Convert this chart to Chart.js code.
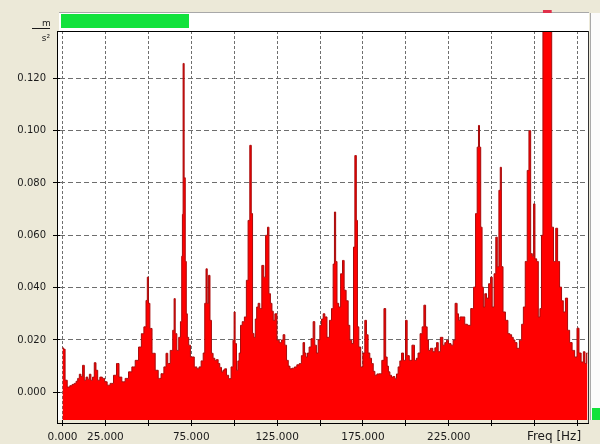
<!DOCTYPE html>
<html>
<head>
<meta charset="utf-8">
<script src="https://cdn.jsdelivr.net/npm/chart.js@4/dist/chart.umd.min.js"></script>
<style>
  html, body { margin: 0; padding: 0; background: #ECE9D8; }
  #wrap { width: 600px; height: 444px; }
</style>
</head>
<body>
<div id="wrap"><canvas id="spectrum" width="600" height="444"></canvas></div>
<script>
// spectrum, in four pieces (Hz / m/s2)
const freqA = [
    0, 1.0, 2.0, 3.5, 5.0, 6.2, 7.4, 8.4, 9.3, 10.3,
    11.2, 12.2, 13.2, 14.2, 15.2, 16.1, 17.0, 18.0, 19.0, 20.0,
    21.0, 22.5, 23.9, 25.2, 26.8, 28.7, 30.7, 32.2, 33.6, 35.5,
    37.5, 39.4, 41.4, 43.3, 45.3, 46.6, 48.2, 49.1, 49.7, 50.5,
    51.3, 53.0, 55.0, 56.5, 58.3, 59.8, 60.8, 61.8, 63.7, 64.7,
    65.3, 66.0, 67.2, 68.2, 69.2, 69.7, 70.0, 70.5, 71.2, 71.8,
    72.4, 73.0, 74.0, 75.0, 76.0
];
const accelA = [
    .0170, .0165, .0046, .0020, .0025, .0030, .0034, .0042, .0053, .0069,
    .0060, .0103, .0046, .0058, .0050, .0069, .0046, .0058, .0113, .0084,
    .0046, .0058, .0053, .0040, .0027, .0034, .0065, .0110, .0058, .0040,
    .0053, .0078, .0097, .0122, .0173, .0224, .0250, .0351, .0440, .0340,
    .0244, .0149, .0084, .0053, .0071, .0097, .0149, .0110, .0160, .0237,
    .0358, .0224, .0160, .0210, .0270, .0520, .0680, .1257, .0820, .0500,
    .0300, .0210, .0180, .0135, .0135
];
const freqB = [
    77.5, 79.0, 80.0, 81.5, 82.4, 83.3, 83.9, 84.7, 85.5, 86.3,
    87.2, 88.2, 89.2, 90.2, 91.1, 92.1, 93.1, 94.0, 95.0, 96.0,
    97.5, 98.9, 99.7, 100.2, 100.9, 101.8, 102.5, 103.3, 104.1, 105.3,
    106.6, 107.6, 108.6, 109.6, 110.3, 111.1, 111.9, 112.7, 113.5, 114.4,
    115.4, 116.8, 117.7, 118.9, 119.9, 120.6, 121.6, 122.4, 123.1, 124.3,
    125.5, 127.0, 128.0, 129.0, 130.0, 131.0, 132.0, 133.0, 134.5, 135.8,
    137.2, 138.7, 139.6, 140.6, 141.4, 142.2, 143.2, 144.1, 145.5, 146.5,
    147.4, 148.4, 149.4, 150.4, 151.4, 152.3, 153.3
];
const accelB = [
    .0097, .0090, .0097, .0120, .0150, .0340, .0472, .0340, .0447, .0275,
    .0149, .0130, .0122, .0125, .0110, .0095, .0078, .0085, .0090, .0065,
    .0052, .0097, .0199, .0307, .0186, .0084, .0120, .0150, .0256, .0270,
    .0288, .0428, .0657, .0944, .0683, .0225, .0210, .0280, .0326, .0340,
    .0320, .0485, .0440, .0600, .0631, .0377, .0340, .0310, .0275, .0300,
    .0199, .0190, .0200, .0220, .0180, .0122, .0100, .0090, .0092, .0097,
    .0105, .0110, .0140, .0190, .0150, .0135, .0150, .0173, .0205, .0270,
    .0180, .0150, .0200, .0256, .0280, .0300, .0288
];
const freqC = [
    154.8, 156.2, 157.2, 158.1, 158.7, 159.5, 160.3, 161.4, 162.6, 163.6,
    164.5, 165.9, 166.9, 167.8, 169.2, 169.8, 170.8, 171.5, 172.1, 173.1,
    174.3, 175.6, 176.6, 177.5, 178.5, 179.5, 180.5, 181.5, 182.4, 183.9,
    185.3, 186.7, 187.8, 188.7, 189.5, 190.2, 191.2, 192.1, 193.1, 194.1,
    195.0, 196.0, 197.0, 198.0, 199.3, 200.3, 201.2, 202.8, 204.3, 205.7,
    206.6, 207.6, 209.0, 210.0, 211.0, 212.0, 212.8, 213.5, 215.0, 216.4,
    217.4, 218.4, 219.3, 220.9, 222.2, 223.2, 224.2, 225.5, 227.1, 228.0,
    229.4, 230.3, 231.0
];
const accelC = [
    .0210, .0275, .0320, .0490, .0689, .0500, .0340, .0326, .0453, .0504,
    .0390, .0350, .0256, .0199, .0186, .0555, .0905, .0657, .0250, .0173,
    .0097, .0150, .0275, .0220, .0150, .0130, .0110, .0080, .0065, .0070,
    .0071, .0122, .0320, .0135, .0100, .0078, .0065, .0058, .0060, .0052,
    .0070, .0097, .0120, .0150, .0122, .0275, .0140, .0122, .0180, .0122,
    .0130, .0150, .0224, .0250, .0333, .0250, .0200, .0160, .0168, .0155,
    .0170, .0190, .0155, .0210, .0180, .0190, .0199, .0186, .0180, .0199,
    .0340, .0300, .0275
];
const freqD = [
    232.0, 233.7, 234.9, 236.8, 238.8, 240.1, 241.1, 242.0, 242.6, 243.2,
    244.0, 244.8, 245.5, 246.5, 247.5, 248.9, 249.8, 250.8, 252.0, 252.8,
    253.7, 254.7, 255.3, 256.0, 257.2, 258.8, 260.1, 261.1, 262.1, 263.0,
    264.0, 265.4, 266.9, 268.0, 268.9, 270.2, 271.2, 272.2, 273.2, 274.1,
    274.7, 275.7, 276.7, 277.6, 278.6, 279.4, 280.3, 281.5, 282.7, 283.9,
    284.6, 285.3, 286.7, 287.9, 288.9, 290.2, 291.2, 292.2, 293.7, 294.7,
    296.1, 297.6, 299.0, 300.4, 301.3, 302.9, 303.9, 304.8, 305.8
];
const accelD = [
    .0288, .0288, .0260, .0256, .0320, .0402, .0683, .0937, .1020, .0937,
    .0631, .0402, .0326, .0377, .0360, .0415, .0440, .0326, .0453, .0593,
    .0480, .0772, .0860, .0480, .0307, .0275, .0224, .0220, .0210, .0200,
    .0190, .0168, .0199, .0260, .0326, .0500, .0848, .1000, .0530, .0520,
    .0720, .0510, .0500, .0288, .0320, .0600, .1600, .1600, .1600, .1600,
    .1600, .0631, .0500, .0627, .0500, .0402, .0350, .0307, .0360, .0237,
    .0190, .0160, .0135, .0245, .0150, .0116, .0155, .0110, .0150
];

const xTicks = [0, 25, 50, 75, 100, 125, 150, 175, 200, 225, 250, 275, 300];
const xLabelled = [0, 25, 75, 125, 175, 225];
const yTicks = [0, 0.02, 0.04, 0.06, 0.08, 0.10, 0.12];

const X_MIN = -1.46, X_MAX = 306.1;
const Y_MIN = -0.0106, Y_MAX = 0.1381;

const freqHz = freqA.concat(freqB, freqC, freqD);
const accel = accelA.concat(accelB, accelC, accelD);
const points = freqHz.map((f, i) => ({x: f, y: accel[i]}));

Chart.defaults.font.family = 'DejaVu Sans';

// window dressing around the plot: frame, level bars, unit
const framePlugin = {
    id: 'frame',
    beforeDraw(chart) {
        const {ctx, chartArea: a} = chart;
        ctx.save();
        ctx.fillStyle = '#ffffff';
        ctx.fillRect(a.left - 2, a.top, a.right - a.left + 2, a.bottom - a.top);
        ctx.restore();
    },
    afterDraw(chart) {
        const {ctx, chartArea: a} = chart;
        ctx.save();

        // plot frame
        ctx.strokeStyle = '#000';
        ctx.lineWidth = 1;
        ctx.beginPath();
        ctx.moveTo(a.left - 2.5, a.top + 0.5);
        ctx.lineTo(a.right + 0.5, a.top + 0.5);
        ctx.moveTo(a.left - 2.5, a.top);
        ctx.lineTo(a.left - 2.5, a.bottom + 4);
        ctx.moveTo(a.left - 3, a.bottom + 3.5);
        ctx.lineTo(a.right + 1, a.bottom + 3.5);
        ctx.stroke();
        ctx.strokeStyle = '#333';
        ctx.beginPath();
        ctx.moveTo(a.right + 0.5, a.top);
        ctx.lineTo(a.right + 0.5, a.bottom + 3);
        ctx.stroke();

        // top level bar
        ctx.fillStyle = '#ffffff';
        ctx.fillRect(a.left - 1, 12, a.right - a.left + 2, 19);
        ctx.strokeStyle = '#a8a8a8';
        ctx.beginPath();
        ctx.moveTo(a.left - 1, 12.5);
        ctx.lineTo(a.right + 1, 12.5);
        ctx.stroke();
        ctx.fillStyle = '#12e23c';
        ctx.fillRect(a.left + 1, 14, 128, 14);

        // overflow marker above the clipped peak
        const meta = chart.getDatasetMeta(0);
        const over = [];
        accel.forEach((v, i) => { if (v > Y_MAX) over.push(i); });
        if (over.length) {
            const els = meta.data;
            const i0 = over[0], i1 = over[over.length - 1];
            const l = (els[i0 - 1].x + els[i0].x) / 2;
            const r = (els[i1].x + els[i1 + 1].x) / 2;
            ctx.fillStyle = '#e0304a';
            ctx.fillRect(l, 10, r - l, 3);
        }

        // right side level panel
        ctx.fillStyle = '#fbfbfb';
        ctx.fillRect(590, 13, 10, a.bottom - 13);
        ctx.strokeStyle = '#a8a8a8';
        ctx.beginPath();
        ctx.moveTo(590.5, 13);
        ctx.lineTo(590.5, a.bottom);
        ctx.stroke();
        ctx.fillStyle = '#12e23c';
        ctx.fillRect(592, a.bottom - 12, 8, 12);

        // unit m/s²
        ctx.fillStyle = '#1a1a1a';
        ctx.font = '9px "DejaVu Sans"';
        ctx.textAlign = 'center';
        ctx.textBaseline = 'alphabetic';
        ctx.fillText('m', 46.5, 26);
        ctx.fillText('s²', 46, 41);
        ctx.fillRect(32, 28, 18, 1);

        // axis name in the tick row
        ctx.font = '12px "DejaVu Sans"';
        ctx.textBaseline = 'middle';
        ctx.fillText('Freq [Hz]', 554, 437);
        ctx.restore();
    }
};

const spectrumChart = new Chart(document.getElementById('spectrum'), {
    type: 'line',
    data: {
        datasets: [{
            data: points,
            stepped: 'middle',
            borderColor: '#a80a0a',
            borderWidth: 1,
            backgroundColor: '#ff0000',
            fill: 'start',
            pointRadius: 0
        }]
    },
    options: {
        responsive: false,
        animation: false,
        layout: {padding: {top: 31, right: 12, left: 0, bottom: 0}},
        plugins: {
            legend: {display: false},
            tooltip: {enabled: false}
        },
        scales: {
            x: {
                type: 'linear',
                min: X_MIN,
                max: X_MAX,
                afterBuildTicks: s => { s.ticks = xTicks.map(v => ({value: v})); },
                afterFit: s => { s.height = 24; },
                ticks: {
                    autoSkip: false,
                    maxRotation: 0,
                    padding: 5,
                    color: '#1a1a1a',
                    font: {size: 10.5},
                    callback: v => xLabelled.includes(v) ? v.toFixed(3) : ''
                },
                grid: {color: '#6e6e6e', tickColor: '#000', tickLength: 6},
                border: {display: false, dash: [3, 2]}
            },
            y: {
                min: Y_MIN,
                max: Y_MAX,
                afterBuildTicks: s => { s.ticks = yTicks.map(v => ({value: v})); },
                afterFit: s => { s.width = 60; },
                ticks: {
                    padding: 7,
                    color: '#1a1a1a',
                    font: {size: 10},
                    callback: v => v.toFixed(3)
                },
                grid: {color: '#6e6e6e', tickColor: '#000', tickLength: 7},
                border: {display: false, dash: [5, 3]}
            }
        }
    },
    plugins: [framePlugin]
});
</script>
</body>
</html>
